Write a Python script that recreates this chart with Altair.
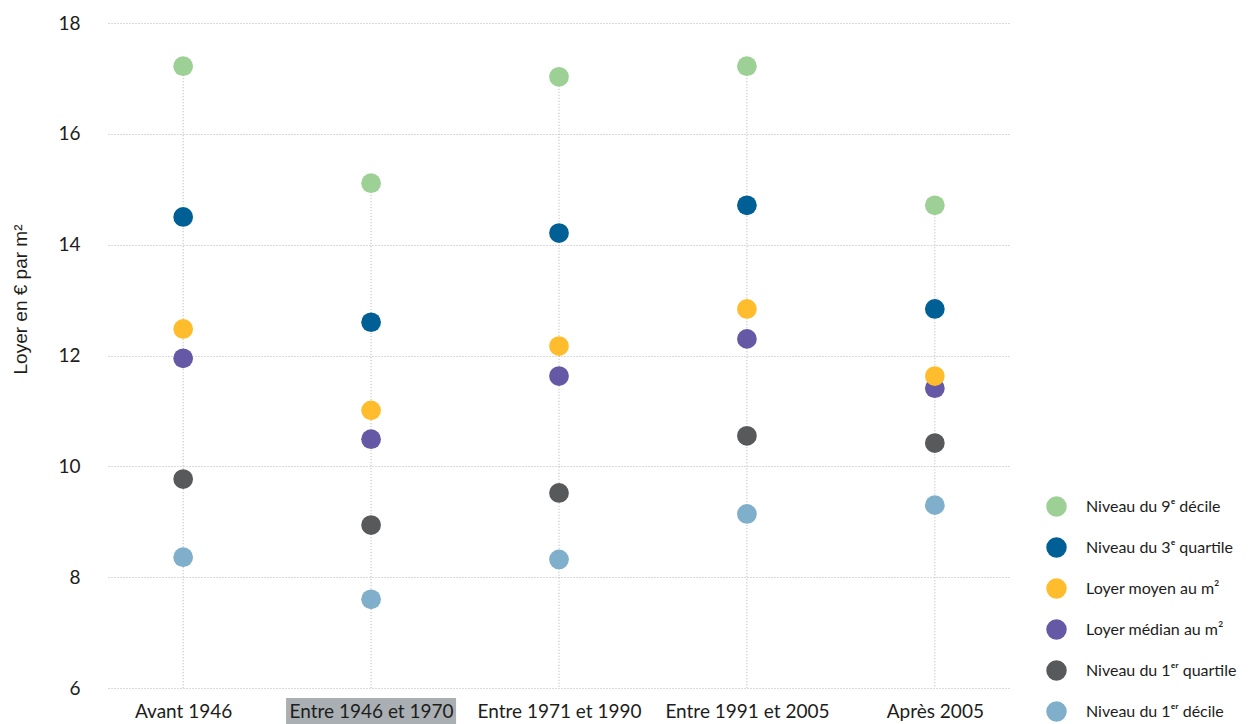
import altair as alt
import pandas as pd

periodes = ["Avant 1946", "Entre 1946 et 1970", "Entre 1971 et 1990", "Entre 1991 et 2005", "Après 2005"]
series = [
    "Niveau du 9ᵉ décile",
    "Niveau du 3ᵉ quartile",
    "Loyer moyen au m²",
    "Loyer médian au m²",
    "Niveau du 1ᵉʳ quartile",
    "Niveau du 1ᵉʳ décile",
]
decile9 = [17.22, 15.11, 17.03, 17.22, 14.71]
quartile3 = [14.50, 12.60, 14.21, 14.71, 12.84]
moyen = [12.48, 11.01, 12.17, 12.84, 11.63]
median = [11.95, 10.49, 11.63, 12.30, 11.41]
quartile1 = [9.77, 8.94, 9.52, 10.55, 10.42]
decile1 = [8.36, 7.60, 8.32, 9.14, 9.30]
couleurs = ["#9dd095", "#006096", "#ffbd2e", "#6559a5", "#58595b", "#7fafca"]
y_ticks = [6, 8, 10, 12, 14, 16, 18]
surligne = ["Entre 1946 et 1970"]

valeurs = [decile9, quartile3, moyen, median, quartile1, decile1]
rows = []
# draw lower series first so that upper series end on top
for s, vals in reversed(list(zip(series, valeurs))):
    for p, v in zip(periodes, vals):
        rows.append({"periode": p, "serie": s, "valeur": v})
df = pd.DataFrame(rows)

FONT = "Lato"
TXT = "#1d1d1b"

x_enc = alt.X(
    "periode:N",
    sort=periodes,
    scale=alt.Scale(type="point", padding=0.4),
    axis=alt.Axis(
        title=None, domain=False, ticks=False, grid=False, labelAngle=0,
        labelFont=FONT, labelFontSize=19, labelColor=TXT, labelPadding=14, zindex=1,
    ),
)
y_axis = alt.Axis(
    values=y_ticks, title="Loyer en € par m²", domain=False, ticks=False,
    grid=True, gridDash=[1, 2], gridColor="#b5b5b5", gridWidth=1,
    labelFont=FONT, labelFontSize=19, labelColor=TXT, labelPadding=28,
    titleFont="Liberation Sans", titleFontSize=19, titleFontWeight="normal", titleColor=TXT,
    titleX=-88, titleY=276, titleAlign="center", titleBaseline="middle",
)
y_scale = alt.Scale(domain=[6, 18], nice=False, zero=False)

regles = alt.Chart(df).transform_aggregate(
    maxv="max(valeur)", groupby=["periode"]
).mark_rule(color="#b0b0b0", strokeDash=[1, 2], strokeWidth=1).encode(
    x=x_enc,
    y=alt.Y("maxv:Q", scale=y_scale, axis=y_axis),
    y2=alt.datum(6),
)

fond = alt.Chart(pd.DataFrame({"periode": surligne})).mark_rect(
    color="#a9afb3", width=170
).encode(
    x=x_enc,
    y=alt.value(675),
    y2=alt.value(705),
)

points = alt.Chart(df).mark_circle(size=390, opacity=1).encode(
    x=x_enc,
    y=alt.Y("valeur:Q", scale=y_scale, axis=y_axis),
    color=alt.Color(
        "serie:N",
        scale=alt.Scale(domain=series, range=couleurs),
        legend=alt.Legend(
            title=None, orient="none", legendX=938, legendY=473,
            symbolType="circle", symbolSize=420, symbolStrokeWidth=0, symbolOpacity=1,
            labelFont=FONT, labelFontSize=16, labelColor=TXT, labelOffset=19,
            rowPadding=20, labelLimit=300,
        ),
    ),
)

chart = alt.layer(fond, regles, points).properties(
    width=902, height=665,
    autosize=alt.AutoSizeParams(type="none"),
    padding={"left": 100, "top": 15, "right": 232, "bottom": 40},
).configure_view(stroke=None)

chart.save("out.html", embed_options={"renderer": "svg", "actions": False})
